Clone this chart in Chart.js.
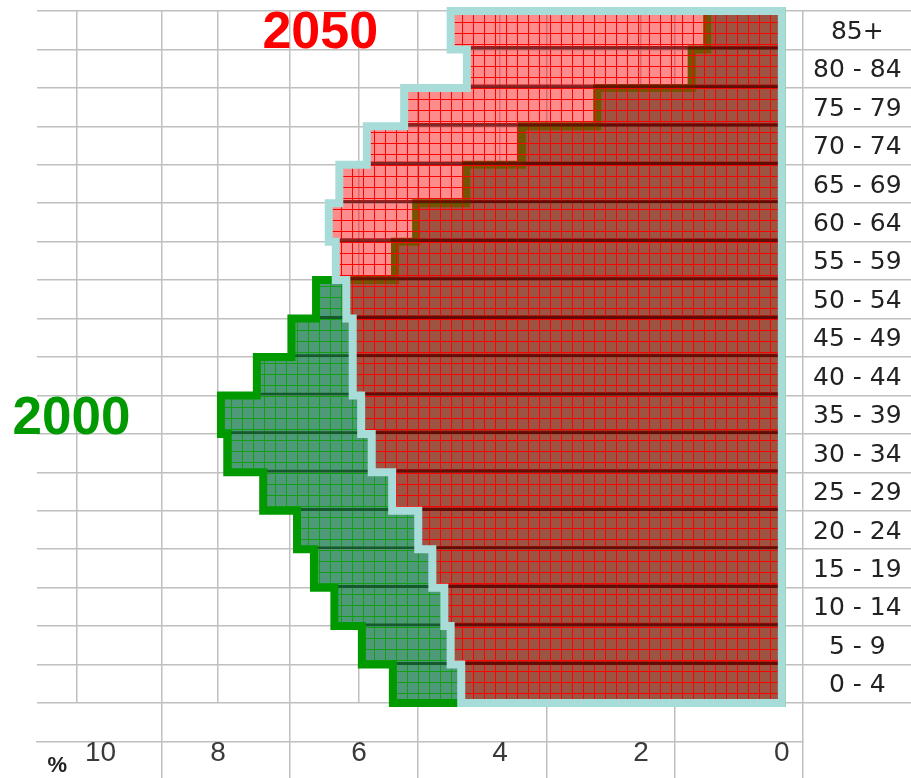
<!DOCTYPE html>
<html>
<head>
<meta charset="utf-8">
<title>Population by age group, 2000 and 2050</title>
<script src="https://cdn.jsdelivr.net/npm/chart.js@4.4.1/dist/chart.umd.min.js"></script>
<style>
  html, body { margin: 0; background: #fff; }
  #wrap { width: 911px; height: 778px; }
</style>
</head>
<body>
<div id="wrap"><canvas id="pyramid"></canvas></div>
<script>
// age groups, youngest first
const ageGroups = ["0 - 4", "5 - 9", "10 - 14", "15 - 19", "20 - 24", "25 - 29",
  "30 - 34", "35 - 39", "40 - 44", "45 - 49", "50 - 54", "55 - 59",
  "60 - 64", "65 - 69", "70 - 74", "75 - 79", "80 - 84", "85+"];

// share of the population in %, same order as ageGroups
const pop2000 = [5.52, 5.96, 6.35, 6.64, 6.88, 7.36, 7.87, 7.96, 7.45, 6.96,
  6.61, 5.49, 5.19, 4.48, 3.69, 2.62, 1.28, 1.06];
const pop2050 = [4.55, 4.70, 4.79, 4.96, 5.16, 5.53, 5.82, 5.97, 6.09, 6.09,
  6.18, 6.33, 6.43, 6.28, 5.89, 5.36, 4.47, 4.70];

const xTicks = [0, 2, 4, 6, 8, 10];

const GRID = "#c0c0c0";
const FONT = '"Liberation Sans", Arial, sans-serif';

// fine grid pattern like the old spreadsheet fill
function hatch(fill, line) {
  const c = document.createElement("canvas");
  c.width = 11;
  c.height = 11;
  const g = c.getContext("2d");
  g.fillStyle = fill;
  g.fillRect(0, 0, 11, 11);
  g.fillStyle = line;
  g.fillRect(0, 0, 11, 1);
  g.fillRect(0, 0, 1, 11);
  return g.createPattern(c, "repeat");
}

// stepped outline round the bars, rows are 1 unit high on the "yl" axis
function outline(vals) {
  const pts = [{ x: 0, y: 0 }];
  vals.forEach((v, i) => {
    pts.push({ x: v, y: i }, { x: v, y: i + 1 });
  });
  pts.push({ x: 0, y: vals.length }, { x: 0, y: 0 });
  return pts;
}

const captions = {
  id: "captions",
  afterDraw(chart) {
    const { ctx } = chart;
    const x = chart.scales.x;
    const y = chart.scales.y;
    ctx.save();
    ctx.textAlign = "center";
    ctx.textBaseline = "middle";
    ctx.font = "bold 52px " + FONT;
    ctx.fillStyle = "#ff0000";
    ctx.fillText("2050", x.getPixelForValue(6.55), y.getPixelForValue(17) + 3);
    ctx.font = "bold 53px " + FONT;
    ctx.fillStyle = "#009a00";
    ctx.fillText("2000", x.getPixelForValue(10.08), y.getPixelForValue(7) + 5);
    ctx.font = "bold 22px " + FONT;
    ctx.fillStyle = "#222";
    ctx.fillText("%", x.getPixelForValue(10) - 20, x.top + 24);
    ctx.restore();
  },
};

const noPad = (s) => {
  s.paddingTop = 0;
  s.paddingBottom = 0;
};

const ctx = document.getElementById("pyramid").getContext("2d");
new Chart(ctx, {
  type: "bar",
  data: {
    labels: ageGroups,
    datasets: [
      {
        type: "line",
        label: "2050 outline",
        data: outline(pop2050),
        xAxisID: "x",
        yAxisID: "yl",
        borderColor: "#a8dcd9",
        borderWidth: 8,
        borderJoinStyle: "miter",
        borderCapStyle: "square",
        pointRadius: 0,
        fill: false,
        clip: false,
        order: 0,
      },
      {
        label: "2050",
        data: pop2050,
        xAxisID: "x",
        yAxisID: "y",
        grouped: false,
        backgroundColor: hatch("rgba(255,0,0,0.45)", "rgba(255,0,0,1)"),
        borderColor: "rgba(110,0,0,0.85)",
        borderWidth: { top: 0, right: 0, bottom: 3, left: 0 },
        borderSkipped: false,
        barPercentage: 1,
        categoryPercentage: 1,
        order: 1,
      },
      {
        type: "line",
        label: "2000 outline",
        data: outline(pop2000),
        xAxisID: "x",
        yAxisID: "yl",
        borderColor: "#009a00",
        borderWidth: 8,
        borderJoinStyle: "miter",
        borderCapStyle: "square",
        pointRadius: 0,
        fill: false,
        clip: false,
        order: 2,
      },
      {
        label: "2000",
        data: pop2000,
        xAxisID: "x",
        yAxisID: "y",
        grouped: false,
        backgroundColor: hatch("#4e9a78", "#12a012"),
        borderColor: "#145a2a",
        borderWidth: { top: 0, right: 0, bottom: 3, left: 0 },
        borderSkipped: false,
        barPercentage: 1,
        categoryPercentage: 1,
        order: 3,
      },
    ],
  },
  options: {
    indexAxis: "y",
    responsive: true,
    maintainAspectRatio: false,
    animation: false,
    layout: { padding: { left: 37, top: 11, right: 0, bottom: 0 } },
    plugins: {
      legend: { display: false },
      tooltip: { enabled: false },
    },
    scales: {
      x: {
        type: "linear",
        position: "bottom",
        weight: 1,
        reverse: true,
        min: -0.3,
        max: 10.57,
        afterBuildTicks: (s) => {
          s.ticks = xTicks.map((v) => ({ value: v }));
        },
        afterFit: (s) => {
          s.height = 36;
        },
        grid: { color: GRID, lineWidth: 1.5, drawTicks: false },
        border: { display: true, color: GRID, width: 1.5 },
        ticks: {
          padding: -3,
          maxRotation: 0,
          autoSkip: false,
          color: "#3a3a3a",
          font: { family: FONT, size: 28, lineHeight: 1 },
          // the "10" sits a little right of its line, next to the % sign
          callback: (v) => (v === 10 ? "      10" : String(v)),
        },
      },
      // spreadsheet column lines
      xs: {
        type: "linear",
        position: "bottom",
        weight: 0,
        reverse: true,
        min: 0,
        max: 5.97,
        afterFit: (s) => {
          s.height = 39;
        },
        ticks: { display: false, stepSize: 1, includeBounds: false },
        grid: { color: GRID, lineWidth: 1.5, drawTicks: true, tickLength: 75 },
        border: { display: false },
      },
      y: {
        type: "category",
        position: "right",
        weight: 1,
        reverse: true,
        afterFit: (s) => {
          s.width = 108;
          noPad(s);
        },
        grid: { display: false },
        border: { display: false },
        ticks: {
          crossAlign: "center",
          padding: 2,
          labelOffset: 2,
          autoSkip: false,
          color: "#222",
          font: { family: '"DejaVu Sans", Verdana, sans-serif', size: 25 },
        },
      },
      // row lines, carried on into the label column
      yl: {
        type: "linear",
        position: "right",
        weight: 0,
        offset: false,
        min: 0,
        max: 18,
        afterFit: (s) => {
          s.width = 0;
          noPad(s);
        },
        ticks: { display: false, stepSize: 1 },
        grid: {
          offset: false,
          color: GRID,
          lineWidth: 1.5,
          drawTicks: true,
          tickLength: 108,
        },
        border: { display: false },
      },
    },
  },
  plugins: [captions],
});
</script>
</body>
</html>
